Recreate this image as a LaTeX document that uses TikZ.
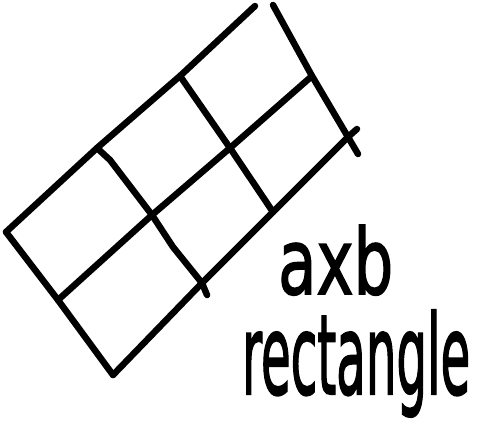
\documentclass[tikz,border=0pt]{standalone}
\usepackage{fontspec}
\usepackage{graphicx}
\setmainfont{DejaVu Sans}
\newfontfamily\handfont[FakeBold=2]{DejaVu Sans}
\tikzset{pen/.style={line width=6.5pt, line cap=round, line join=round, black},
  hand/.style={inner sep=0pt, anchor=base west, font=\handfont}}
\begin{document}
\begin{tikzpicture}[x=1pt,y=-1pt]
\useasboundingbox (0,0) rectangle (478,436);
% grid corner / crossing points
\coordinate (a1) at (6,232);
\coordinate (a2) at (97,148);
\coordinate (a3) at (180,76);
\coordinate (a4) at (255,6);
\coordinate (b1) at (58,300);
\coordinate (b2) at (152,215);
\coordinate (b3) at (230,148);
\coordinate (b4) at (312,76);
\coordinate (c1) at (113,375);
\coordinate (c2) at (202,283);
\coordinate (c3) at (273,212);
\coordinate (c4) at (348,137);
% long lines
\draw[pen] (a1) -- (a2) -- (a3) -- (a4);
\draw[pen] (b1) -- (b2) -- (b3) -- (b4);
\draw[pen] (c1) -- (c2) -- (c3) -- (c4) -- (357,129);
% cross lines
\draw[pen] (a1) -- (b1) -- (c1);
\draw[pen] (a2) -- (110,160) -- (b2) -- (173,247) -- (c2) -- (207,295);
\draw[pen] (a3) -- (b3) -- (c3);
\draw[pen] (273,5) -- (b4) -- (c4) -- (358,154);
% labels
\node[hand] (t1) at (278,294) {\resizebox{115pt}{69pt}{axb}};
\node[hand] (t2) at (242,394) {\resizebox{228pt}{84pt}{rectangle}};
\end{tikzpicture}
\end{document}
